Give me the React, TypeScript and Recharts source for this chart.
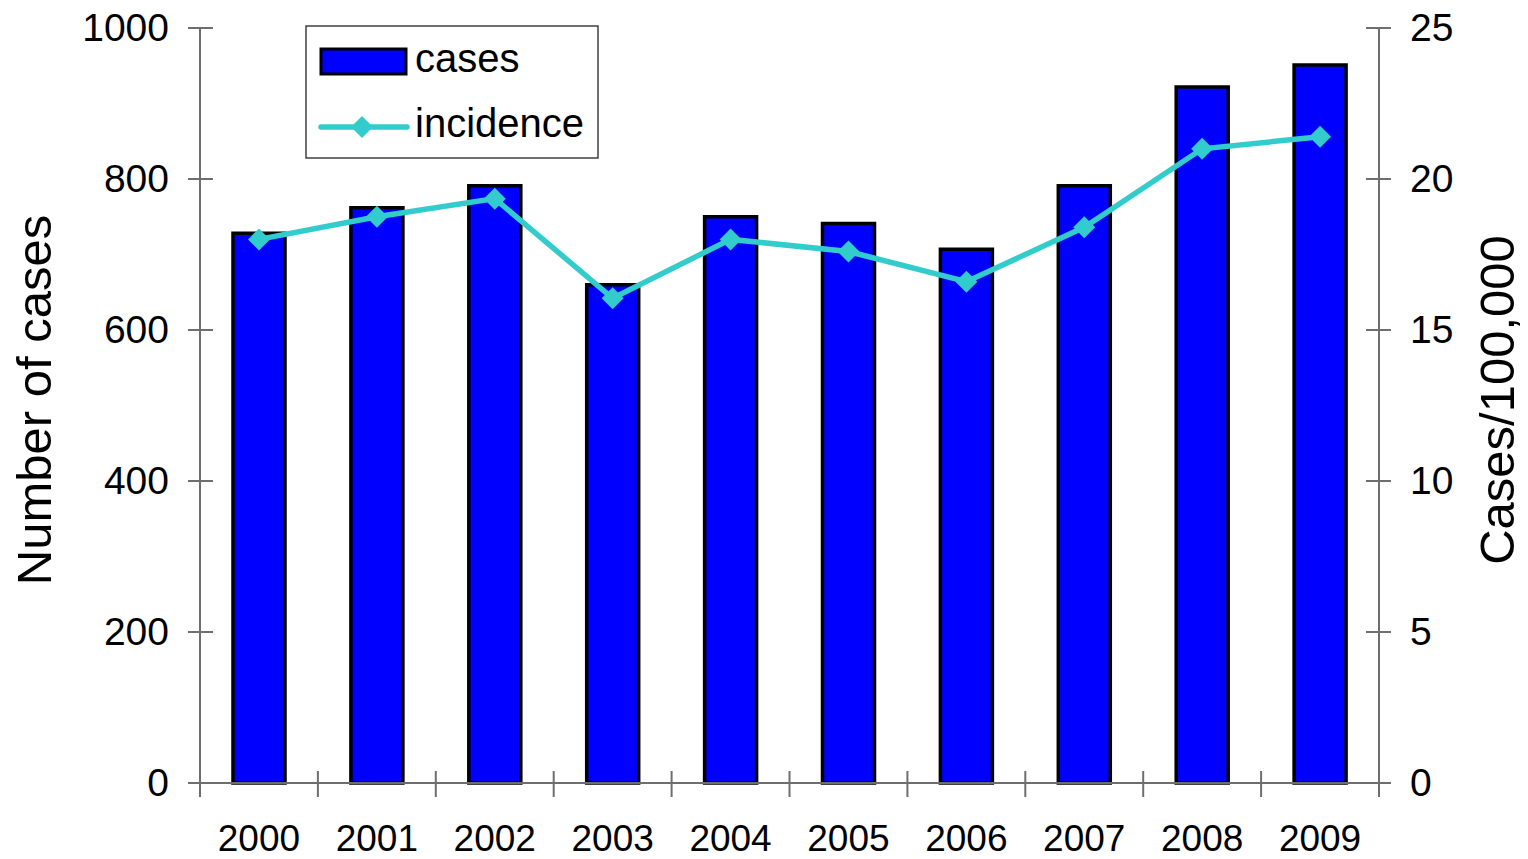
import {
  ComposedChart,
  Bar,
  Line,
  XAxis,
  YAxis,
  Legend,
} from "recharts";

const years = ["2000", "2001", "2002", "2003", "2004", "2005", "2006", "2007", "2008", "2009"];
const cases = [728, 762, 791, 660, 750, 741, 707, 791, 922, 951];
const incidence = [18.0, 18.75, 19.35, 16.05, 18.0, 17.6, 16.6, 18.4, 21.0, 21.4];
const leftTicks = [0, 200, 400, 600, 800, 1000];
const rightTicks = [0, 5, 10, 15, 20, 25];

const data = years.map((year, i) => ({
  year,
  cases: cases[i],
  incidence: incidence[i],
}));

const W = 1528;
const H = 859;
const LEFT_W = 200;
const RIGHT_W = 149;
const TOP = 28;
const BOTTOM_H = 76;
const band = (W - LEFT_W - RIGHT_W) / years.length;

const FONT = "'Liberation Sans', Arial, sans-serif";
const AXIS = "#6e6e6e";
const TEAL = "#33CCCC";

const LeftTick = ({ x, y, payload }: any) => (
  <g>
    <line x1={x - 12} x2={x + 13} y1={y} y2={y} stroke={AXIS} strokeWidth={2} />
    <text x={x - 31} y={y + 13} textAnchor="end" fontSize={39} fontFamily={FONT} fill="#000">
      {payload.value}
    </text>
  </g>
);

const RightTick = ({ x, y, payload }: any) => (
  <g>
    <line x1={x - 13} x2={x + 12} y1={y} y2={y} stroke={AXIS} strokeWidth={2} />
    <text x={x + 31} y={y + 13} textAnchor="start" fontSize={39} fontFamily={FONT} fill="#000">
      {payload.value}
    </text>
  </g>
);

const BottomTick = ({ x, y, payload, index }: any) => (
  <g>
    <line x1={x - band / 2} x2={x - band / 2} y1={y - 12} y2={y + 14} stroke={AXIS} strokeWidth={2} />
    {index === years.length - 1 && (
      <line x1={x + band / 2} x2={x + band / 2} y1={y - 12} y2={y + 14} stroke={AXIS} strokeWidth={2} />
    )}
    <text x={x} y={y + 68} textAnchor="middle" fontSize={37} fontFamily={FONT} fill="#000">
      {payload.value}
    </text>
  </g>
);

const renderDot = (props: any) => {
  const { cx, cy, index } = props;
  const r = 11;
  return (
    <polygon
      key={`dot-${index}`}
      points={`${cx},${cy - r} ${cx + r},${cy} ${cx},${cy + r} ${cx - r},${cy}`}
      fill={TEAL}
    />
  );
};

const customLegend = () => {
  return (
    <svg width={294} height={134} style={{ display: "block" }}>
      <rect x={1} y={1} width={292} height={132} fill="#fff" stroke="#404040" strokeWidth={1.5} />
      <rect x={16} y={24} width={85} height={25} fill="#0000FF" stroke="#000" strokeWidth={3} />
      <text x={110} y={47} fontSize={40} fontFamily={FONT} fill="#000">
        cases
      </text>
      <line x1={16} x2={102} y1={102} y2={102} stroke={TEAL} strokeWidth={5.5} strokeLinecap="round" />
      <polygon points="57,91 68,102 57,113 46,102" fill={TEAL} />
      <text x={110} y={112} fontSize={40} fontFamily={FONT} fill="#000">
        incidence
      </text>
    </svg>
  );
};

export default function App() {
  return (
    <div style={{ position: "absolute", left: 0, top: 0 }}>
      <ComposedChart
        width={W}
        height={H}
        data={data}
        margin={{ top: TOP, right: 0, left: 0, bottom: 0 }}
        barCategoryGap={0}
      >
        <XAxis
          dataKey="year"
          height={BOTTOM_H}
          axisLine={{ stroke: AXIS, strokeWidth: 2 }}
          tickLine={false}
          tickSize={0}
          tickMargin={0}
          tick={<BottomTick />}
          interval={0}
        />
        <YAxis
          yAxisId="left"
          orientation="left"
          width={LEFT_W}
          domain={[0, 1000]}
          ticks={leftTicks}
          axisLine={{ stroke: AXIS, strokeWidth: 2 }}
          tickLine={false}
          tickSize={0}
          tickMargin={0}
          tick={<LeftTick />}
          label={{
            content: () => (
              <text
                x={51}
                y={400}
                transform="rotate(-90, 51, 400)"
                textAnchor="middle"
                fontSize={49}
                fontFamily={FONT}
                fill="#000"
              >
                Number of cases
              </text>
            ),
          }}
        />
        <YAxis
          yAxisId="right"
          orientation="right"
          width={RIGHT_W}
          domain={[0, 25]}
          ticks={rightTicks}
          axisLine={{ stroke: AXIS, strokeWidth: 2 }}
          tickLine={false}
          tickSize={0}
          tickMargin={0}
          tick={<RightTick />}
          label={{
            content: () => (
              <text
                x={1514}
                y={400}
                transform="rotate(-90, 1514, 400)"
                textAnchor="middle"
                fontSize={49}
                fontFamily={FONT}
                fill="#000"
              >
                Cases/100,000
              </text>
            ),
          }}
        />
        <Legend
          content={customLegend}
          layout="horizontal"
          verticalAlign="middle"
          align="center"
          wrapperStyle={{ left: 305, top: 25, width: 294, height: 134 }}
        />
        <Bar
          yAxisId="left"
          dataKey="cases"
          name="cases"
          barSize={52}
          fill="#0000FF"
          stroke="#000"
          strokeWidth={3.5}
          isAnimationActive={false}
        />
        <Line
          yAxisId="right"
          dataKey="incidence"
          name="incidence"
          type="linear"
          stroke={TEAL}
          strokeWidth={5.5}
          dot={renderDot}
          activeDot={false}
          isAnimationActive={false}
        />
      </ComposedChart>
    </div>
  );
}
